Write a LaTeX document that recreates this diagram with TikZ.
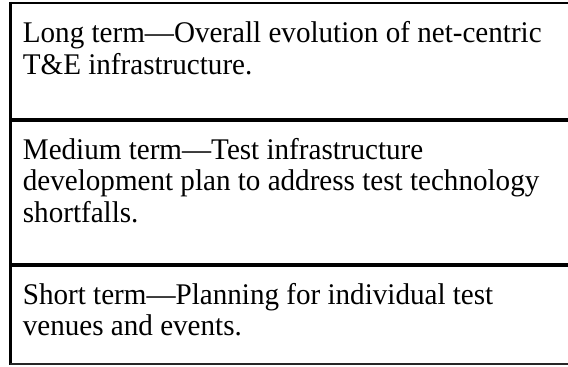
\documentclass[tikz,border=0pt]{standalone}
\usepackage{fontspec}
\setmainfont{Liberation Serif}[FakeStretch=0.97]
\begin{document}
\begin{tikzpicture}[x=0.5pt,y=-0.5pt]
\tikzstyle{every node}+=[inner sep=0pt]
\tikzstyle{term}=[anchor=north west, align=left, font=\fontsize{15}{15.75}\selectfont]
\useasboundingbox (0,0) rectangle (568,366);
\draw [black, line width=1.5pt] (10.5,1.8) -- (10.5,364.8);
\draw [black, line width=1.25pt] (9.75,3) -- (568,3);
\draw [black, line width=2pt] (9.75,120) -- (568,120);
\draw [black, line width=2.25pt] (9.75,265) -- (568,265);
\draw [black!85, line width=0.75pt] (9.75,364) -- (568,364);
\node [term] (long) at (22.5,21) {Long term---Overall evolution of net-centric\\T\&E infrastructure.};
\node [term] (medium) at (22.5,137.5) {Medium term---Test infrastructure\\development plan to address test technology\\shortfalls.};
\node [term] (short) at (22.5,282.5) {Short term---Planning for individual test\\venues and events.};
\end{tikzpicture}
\end{document}
